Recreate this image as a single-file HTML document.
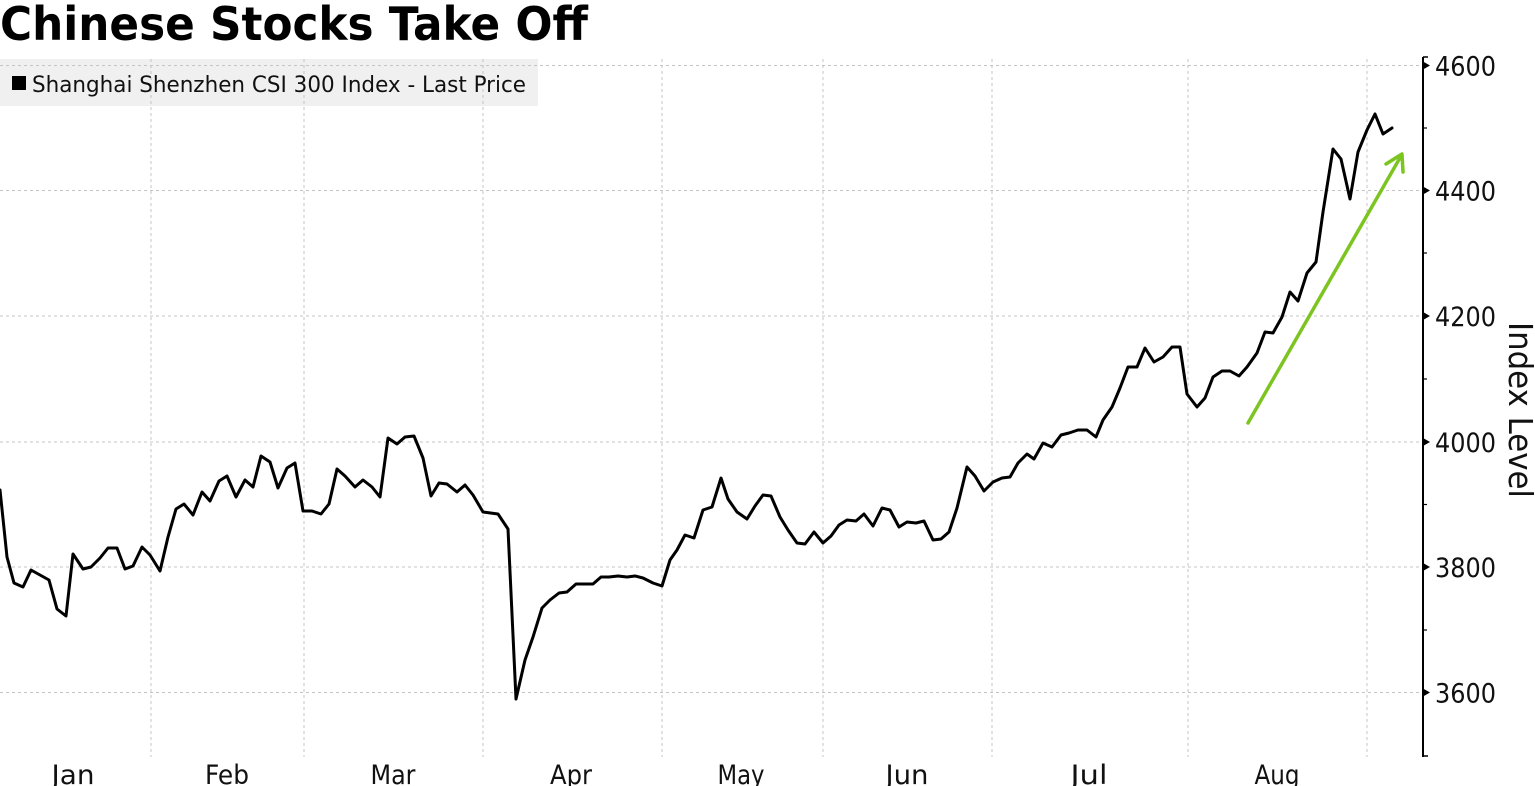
<!DOCTYPE html>
<html>
<head>
<meta charset="utf-8">
<style>
  html,body{margin:0;padding:0;background:#fff;}
  svg{display:block;}
</style>
</head>
<body>
<svg width="1535" height="786" viewBox="0 0 1535 786" xmlns="http://www.w3.org/2000/svg">
  <rect x="0" y="0" width="1535" height="786" fill="#ffffff"/>

  <!-- Title -->
  <text x="0" y="40" font-family="DejaVu Sans, Liberation Sans, sans-serif" font-weight="bold" font-size="46" textLength="588" lengthAdjust="spacingAndGlyphs" fill="#000">Chinese Stocks Take Off</text>

  <!-- Legend box -->
  <rect x="0" y="59" width="538" height="47" fill="#f0f0f0"/>

  <!-- Horizontal gridlines -->
  <g stroke="#c4c4c4" stroke-width="1" stroke-dasharray="3 3">
    <line x1="0" y1="65.5" x2="1423" y2="65.5"/>
    <line x1="0" y1="190.5" x2="1423" y2="190.5"/>
    <line x1="0" y1="316" x2="1423" y2="316"/>
    <line x1="0" y1="442" x2="1423" y2="442"/>
    <line x1="0" y1="567" x2="1423" y2="567"/>
    <line x1="0" y1="692.5" x2="1423" y2="692.5"/>
  </g>
  <!-- Vertical gridlines -->
  <g stroke="#c4c4c4" stroke-width="1" stroke-dasharray="3 3">
    <line x1="151" y1="59" x2="151" y2="757"/>
    <line x1="304" y1="59" x2="304" y2="757"/>
    <line x1="483" y1="59" x2="483" y2="757"/>
    <line x1="662" y1="59" x2="662" y2="757"/>
    <line x1="823" y1="59" x2="823" y2="757"/>
    <line x1="992" y1="59" x2="992" y2="757"/>
    <line x1="1188" y1="59" x2="1188" y2="757"/>
    <line x1="1367" y1="59" x2="1367" y2="757"/>
  </g>

  <!-- Legend content -->
  <rect x="12" y="76" width="14" height="14" fill="#000"/>
  <text x="32" y="92" font-family="DejaVu Sans, Liberation Sans, sans-serif" font-size="22" textLength="494" lengthAdjust="spacingAndGlyphs" fill="#111">Shanghai Shenzhen CSI 300 Index - Last Price</text>

  <!-- Data line -->
  <polyline fill="none" stroke="#000" stroke-width="3" stroke-linejoin="round" stroke-linecap="round" points="
    0,490 7,557 14,583 23,587 31,570 49,580 57,609 66,616 73,554 83,569 91,567 100,558 108,548 117,548
    125,569 133,566 142,547 150,555 160,571 168,537 176,509 184,504 193,515 202,492 210,501 219,481
    227,476 236,497 245,480 253,487 261,456 270,462 278,488 287,468 295,463 303,511 312,511 321,514
    329,504 337,469 345,476 355,487 363,480 372,487 380,497 388,438 397,444 405,437 414,436 423,458
    431,496 439,483 447,484 457,492 465,485 473,495 483,512 498,514 508,529 516,699 525,660 533,637
    542,608 550,600 559,593 567,592 576,584 593,584 601,577 609,577 618,576 627,577 635,576 643,578
    653,583 662,586 670,560 677,550 685,535 694,538 703,510 712,507 721,478 728,499 737,512 747,519
    755,506 763,495 771,496 780,517 788,530 797,543 805,544 814,532 823,543 831,536 839,525 847,520
    856,521 864,514 873,526 882,508 890,510 899,527 907,522 916,523 924,521 933,540 941,539 949,532
    957,508 967,467 975,476 984,491 993,482 1002,478 1010,477 1018,463 1027,454 1034,459 1043,443
    1052,447 1061,435 1069,433 1078,430 1087,430 1096,437 1103,420 1112,407 1120,388 1128,367 1137,367
    1145,348 1154,362 1163,357 1172,347 1180,347 1187,394 1197,407 1205,398 1213,377 1222,371 1230,371
    1239,376 1247,367 1257,353 1265,332 1273,333 1282,317 1290,292 1298,301 1307,273 1316,262 1323,212
    1333,149 1341,159 1350,199 1358,152 1367,130 1375,114 1383,134 1392,128"/>

  <!-- Green arrow -->
  <g stroke="#7cc520" stroke-width="3.5" fill="none" stroke-linecap="round" stroke-linejoin="round">
    <line x1="1248" y1="423" x2="1401" y2="156"/>
    <polyline points="1386,164 1402,154 1403,172"/>
  </g>

  <!-- Y axis -->
  <line x1="1423" y1="57" x2="1423" y2="757" stroke="#000" stroke-width="2"/>
  <line x1="1423" y1="57" x2="1428" y2="57" stroke="#000" stroke-width="1.5"/>
  <line x1="1423" y1="756" x2="1428" y2="756" stroke="#000" stroke-width="1.5"/>
  <g fill="#000">
    <polygon points="1423,61.5 1430,65.5 1423,69.5"/>
    <polygon points="1423,186.5 1430,190.5 1423,194.5"/>
    <polygon points="1423,312 1430,316 1423,320"/>
    <polygon points="1423,438 1430,442 1423,446"/>
    <polygon points="1423,563 1430,567 1423,571"/>
    <polygon points="1423,688.5 1430,692.5 1423,696.5"/>
  </g>
  <g stroke="#000" stroke-width="1.2">
    <line x1="1423" y1="128" x2="1427" y2="128"/>
    <line x1="1423" y1="253" x2="1427" y2="253"/>
    <line x1="1423" y1="379" x2="1427" y2="379"/>
    <line x1="1423" y1="504.5" x2="1427" y2="504.5"/>
    <line x1="1423" y1="630" x2="1427" y2="630"/>
  </g>

  <!-- Y tick labels -->
  <g font-family="DejaVu Sans, Liberation Sans, sans-serif" font-size="27" fill="#111">
    <text x="1435" y="75.5" textLength="61" lengthAdjust="spacingAndGlyphs">4600</text>
    <text x="1435" y="200.5" textLength="61" lengthAdjust="spacingAndGlyphs">4400</text>
    <text x="1435" y="326" textLength="61" lengthAdjust="spacingAndGlyphs">4200</text>
    <text x="1435" y="452" textLength="61" lengthAdjust="spacingAndGlyphs">4000</text>
    <text x="1435" y="577" textLength="61" lengthAdjust="spacingAndGlyphs">3800</text>
    <text x="1435" y="702.5" textLength="61" lengthAdjust="spacingAndGlyphs">3600</text>
  </g>

  <!-- Y axis title -->
  <text transform="translate(1509,322) rotate(90)" font-family="DejaVu Sans, Liberation Sans, sans-serif" font-size="33" textLength="176" lengthAdjust="spacingAndGlyphs" fill="#111">Index Level</text>

  <!-- X month labels -->
  <g font-family="DejaVu Sans, Liberation Sans, sans-serif" font-size="27" fill="#111" text-anchor="middle">
    <text x="73" y="784" textLength="43" lengthAdjust="spacingAndGlyphs">Jan</text>
    <text x="227" y="784" textLength="44" lengthAdjust="spacingAndGlyphs">Feb</text>
    <text x="393" y="784" textLength="45" lengthAdjust="spacingAndGlyphs">Mar</text>
    <text x="571" y="784" textLength="42" lengthAdjust="spacingAndGlyphs">Apr</text>
    <text x="741" y="784" textLength="47" lengthAdjust="spacingAndGlyphs">May</text>
    <text x="907" y="784" textLength="43" lengthAdjust="spacingAndGlyphs">Jun</text>
    <text x="1089" y="784" textLength="37" lengthAdjust="spacingAndGlyphs">Jul</text>
    <text x="1277" y="784" textLength="45" lengthAdjust="spacingAndGlyphs">Aug</text>
  </g>
</svg>
</body>
</html>
